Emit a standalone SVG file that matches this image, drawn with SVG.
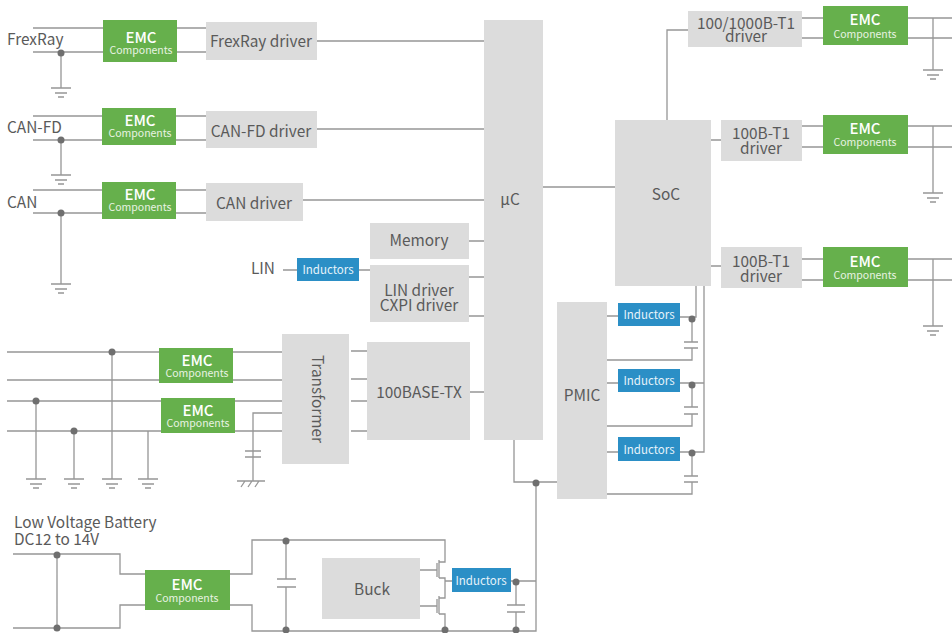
<svg xmlns="http://www.w3.org/2000/svg" width="952" height="633" viewBox="0 0 952 633">
<style>
text{font-family:"Noto Sans CJK JP","Noto Sans","Liberation Sans",sans-serif;fill:#5a5a5a;font-size:15.4px;text-anchor:middle}
.l{text-anchor:start}
.g{fill:#dcdcdc}
.e{fill:#66b04c}
.i{fill:#2b8fc6}
.et{fill:#fff;font-size:15px;font-weight:500}
.ec{fill:#e8f3e2;font-size:10.5px}
.it{fill:#e6f3fa;font-size:11.5px}
#connectors path,.gnd path{fill:none;stroke:#969696;stroke-width:1.3}
#connectors circle{fill:#6f6f6f}
</style>
<defs>
<g id="gnd" class="gnd"><path d="M-10 0H10M-6 5H6M-3 9H3"/></g>
</defs>
<g id="connectors">
<path d="M33 28H206M33 52H206M61 52V88M317 41H484"/><use href="#gnd" x="61" y="88"/><circle cx="61" cy="53" r="3.5"/>
<path d="M33 116H206M33 140H206M61 140V175M317 129H484"/><use href="#gnd" x="61" y="175"/><circle cx="61" cy="140" r="3.5"/>
<path d="M33 190H206M33 213H206M61 213V284M303 200H484"/><use href="#gnd" x="61" y="284"/><circle cx="61" cy="213" r="3.5"/>
<path d="M283 270H370M469 241H484M469 277H484M469 316H484M470 392H484M543 187H615"/>
<path d="M7 352H282M7 380H282M7 401H282M7 431H282M351 351H367M351 379H367M351 401H367M351 431H367"/>
<path d="M282 413H253V481M245 451H261M245 457H261M237 481H265M241 487L245 481M248 487L252 481M255 487L259 481"/>
<path d="M36 401V479M74 431V479M112 352V479M148 431V479"/>
<use href="#gnd" x="36" y="479"/><use href="#gnd" x="74" y="479"/><use href="#gnd" x="112" y="479"/><use href="#gnd" x="148" y="479"/>
<circle cx="112" cy="352" r="3.5"/><circle cx="36" cy="401" r="3.5"/><circle cx="74" cy="431" r="3.5"/>
<path d="M13 554H120V574H145M13 628H120V605H145M57 554V628"/>
<circle cx="57" cy="555" r="3.5"/><circle cx="57" cy="628" r="3.5"/>
<path d="M230 574H252V540H445V562H439M230 605H252V631H536V482M514 440V482H558"/>
<path d="M286 540V579M286 587V631M277 579H296M277 587H296"/>
<circle cx="286" cy="541" r="3.5"/><circle cx="286" cy="630" r="3.5"/>
<path d="M420 570H437M437 563V577M439 560V578M439 578H445V598H439M439 596V614M439 614H445V631M420 606H437M437 599V613M445 581H452M511 581H536M516 581V605M516 612V631M507 605H525M507 612H525"/>
<circle cx="445" cy="630" r="3.5"/><circle cx="516" cy="582" r="3.5"/><circle cx="516" cy="630" r="3.5"/><circle cx="536" cy="483" r="3.5"/>
<path d="M607 316H618M680 317H696V286M692 317V342M684 342H698M684 348H698M692 348V360H607"/>
<path d="M607 383H618M680 383H704M692 383V407M684 407H698M684 414H698M692 414V426H607"/>
<path d="M607 452H618M680 452H704V286M692 452V476M684 476H698M684 482H698M692 482V494H607"/>
<circle cx="692" cy="319" r="3.5"/><circle cx="692" cy="385" r="3.5"/><circle cx="692" cy="453" r="3.5"/>
<path d="M667 120V30H688M802 18H952M802 38H952M933 18V70"/><use href="#gnd" x="933" y="70"/>
<path d="M711 140H721M802 126H952M802 147H952M933 126V193"/><use href="#gnd" x="933" y="193"/>
<path d="M711 266H721M802 259H952M802 280H952M933 259V326"/><use href="#gnd" x="933" y="326"/>
</g>
<text class="l" x="7" y="45">FrexRay</text>
<text class="l" x="7" y="133">CAN-FD</text>
<text class="l" x="7" y="208">CAN</text>
<text class="l" x="251" y="274">LIN</text>
<text class="l" x="14" y="528">Low Voltage Battery</text>
<text class="l" x="14" y="545">DC12 to 14V</text>
<g id="emc1"><rect class="e" x="103" y="20" width="74" height="42"/><text class="et" x="141" y="43">EMC</text><text class="ec" x="141" y="54">Components</text></g>
<g id="emc2"><rect class="e" x="102" y="108" width="74" height="37"/><text class="et" x="140" y="126">EMC</text><text class="ec" x="140" y="137">Components</text></g>
<g id="emc3"><rect class="e" x="102" y="182" width="74" height="37"/><text class="et" x="140" y="200">EMC</text><text class="ec" x="140" y="211">Components</text></g>
<g id="emc4"><rect class="e" x="159" y="348" width="74" height="35"/><text class="et" x="197" y="366">EMC</text><text class="ec" x="197" y="377">Components</text></g>
<g id="emc5"><rect class="e" x="161" y="398" width="74" height="35"/><text class="et" x="198" y="416">EMC</text><text class="ec" x="198" y="427">Components</text></g>
<g id="emc6"><rect class="e" x="145" y="570" width="85" height="40"/><text class="et" x="187" y="590">EMC</text><text class="ec" x="187" y="602">Components</text></g>
<g id="emc7"><rect class="e" x="823" y="6" width="85" height="39"/><text class="et" x="865" y="25">EMC</text><text class="ec" x="865" y="38">Components</text></g>
<g id="emc8"><rect class="e" x="823" y="115" width="85" height="39"/><text class="et" x="865" y="134">EMC</text><text class="ec" x="865" y="146">Components</text></g>
<g id="emc9"><rect class="e" x="823" y="247" width="85" height="40"/><text class="et" x="865" y="267">EMC</text><text class="ec" x="865" y="279">Components</text></g>
<g id="frexray-driver"><rect class="g" x="206" y="22" width="111" height="38"/><text x="261" y="47">FrexRay driver</text></g>
<g id="canfd-driver"><rect class="g" x="206" y="111" width="111" height="37"/><text x="261" y="137">CAN-FD driver</text></g>
<g id="can-driver"><rect class="g" x="206" y="183" width="97" height="38"/><text x="254" y="209">CAN driver</text></g>
<g id="lin-inductors"><rect class="i" x="297" y="258" width="62" height="23"/><text class="it" x="328" y="274">Inductors</text></g>
<g id="memory"><rect class="g" x="370" y="223" width="99" height="36"/><text x="419" y="246">Memory</text></g>
<g id="lin-driver"><rect class="g" x="370" y="265" width="99" height="57"/><text x="419" y="296">LIN driver</text><text x="419" y="311">CXPI driver</text></g>
<g id="uc"><rect class="g" x="484" y="20" width="59" height="420"/><text x="510" y="205">µC</text></g>
<g id="soc"><rect class="g" x="615" y="120" width="96" height="166"/><text x="666" y="200">SoC</text></g>
<g id="transformer"><rect class="g" x="282" y="334" width="67" height="130"/><text transform="translate(312 399) rotate(90)">Transformer</text></g>
<g id="base-tx"><rect class="g" x="367" y="342" width="103" height="98"/><text x="419" y="398">100BASE-TX</text></g>
<g id="pmic"><rect class="g" x="557" y="302" width="50" height="197"/><text x="582" y="401">PMIC</text></g>
<g id="buck"><rect class="g" x="322" y="558" width="98" height="61"/><text x="372" y="595">Buck</text></g>
<g id="inductors-buck"><rect class="i" x="452" y="568" width="59" height="24"/><text class="it" x="481" y="585">Inductors</text></g>
<g id="inductors1"><rect class="i" x="618" y="303" width="62" height="23"/><text class="it" x="649" y="319">Inductors</text></g>
<g id="inductors2"><rect class="i" x="618" y="369" width="62" height="23"/><text class="it" x="649" y="385">Inductors</text></g>
<g id="inductors3"><rect class="i" x="618" y="437" width="62" height="24"/><text class="it" x="649" y="454">Inductors</text></g>
<g id="t1-driver1"><rect class="g" x="688" y="11" width="114" height="36"/><text x="746" y="29">100/1000B-T1</text><text x="746" y="42">driver</text></g>
<g id="t1-driver2"><rect class="g" x="721" y="120" width="81" height="41"/><text x="761" y="139">100B-T1</text><text x="761" y="154">driver</text></g>
<g id="t1-driver3"><rect class="g" x="721" y="247" width="81" height="41"/><text x="761" y="267">100B-T1</text><text x="761" y="282">driver</text></g>
</svg>
